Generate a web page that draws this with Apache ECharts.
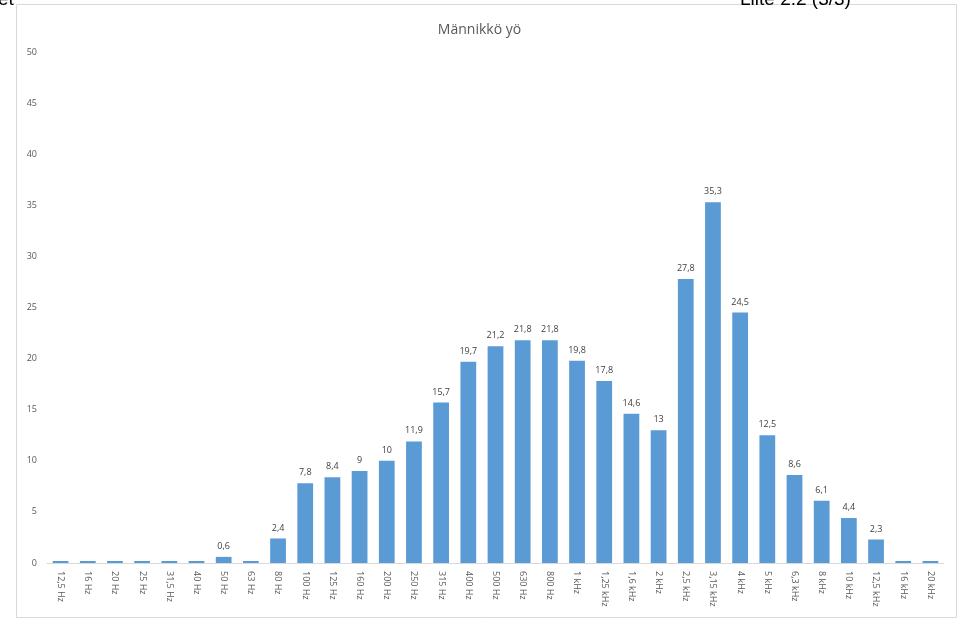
<!DOCTYPE html>
<html lang="fi">
<head>
    <meta charset="UTF-8" />
    <title>Männikkö yö</title>
    <script src="https://cdn.jsdelivr.net/npm/echarts@6/dist/echarts.min.js"></script>
    <style>
        html, body { margin: 0; padding: 0; background: #fff; }
        #chart { width: 959px; height: 620px; }
    </style>
</head>
<body>
    <div id="chart"></div>
    <script>
        // taajuuskaistat (terssit)
        var bands = ["12,5 Hz", "16 Hz", "20 Hz", "25 Hz", "31,5 Hz", "40 Hz", "50 Hz", "63 Hz", "80 Hz",
            "100 Hz", "125 Hz", "160 Hz", "200 Hz", "250 Hz", "315 Hz", "400 Hz", "500 Hz", "630 Hz", "800 Hz",
            "1 kHz", "1,25 kHz", "1,6 kHz", "2 kHz", "2,5 kHz", "3,15 kHz", "4 kHz", "5 kHz", "6,3 kHz",
            "8 kHz", "10 kHz", "12,5 kHz", "16 kHz", "20 kHz"];
        // tasot
        var levels = [0, 0, 0, 0, 0, 0, 0.6, 0, 2.4, 7.8, 8.4, 9, 10, 11.9, 15.7, 19.7, 21.2, 21.8, 21.8,
            19.8, 17.8, 14.6, 13, 27.8, 35.3, 24.5, 12.5, 8.6, 6.1, 4.4, 2.3, 0, 0];
        var yTicks = [0, 5, 10, 15, 20, 25, 30, 35, 40, 45, 50];

        var chart = echarts.init(document.getElementById("chart"));

        var option = {
            animation: false,
            title: {
                text: "Männikkö yö",
                left: "center",
                top: 18,
                textStyle: { fontFamily: "Open Sans", fontSize: 14, fontWeight: "normal", color: "#595959" }
            },
            graphic: [
                {
                    type: "rect",
                    shape: { x: 16.5, y: 4.5, width: 940, height: 613 },
                    style: { fill: "none", stroke: "#d9d9d9", lineWidth: 1 },
                    z: -1
                },
                {
                    type: "text", left: -2, top: -10,
                    style: { text: "et", font: "19px Liberation Sans", fill: "#000" }
                },
                {
                    type: "text", left: 740, top: -10,
                    style: { text: "Liite 2.2 (3/3)", font: "19px Liberation Sans", fill: "#000" }
                }
            ],
            grid: { left: 47, right: 15, top: 52, bottom: 57 },
            xAxis: {
                type: "category",
                data: bands,
                axisLine: { lineStyle: { color: "#d9d9d9" } },
                axisTick: { show: false },
                axisLabel: {
                    rotate: -90,
                    interval: 0,
                    margin: 8,
                    fontFamily: "Open Sans",
                    fontSize: 9,
                    color: "#595959"
                }
            },
            yAxis: {
                type: "value",
                min: yTicks[0],
                max: yTicks[yTicks.length - 1],
                interval: 5,
                splitLine: { show: false },
                axisLine: { show: false },
                axisTick: { show: false },
                axisLabel: { margin: 10, fontFamily: "Open Sans", fontSize: 9, color: "#595959" }
            },
            series: [{
                type: "bar",
                data: levels,
                barWidth: "58%",
                barMinHeight: 2,
                itemStyle: { color: "#5b9bd5" },
                label: {
                    show: true,
                    position: "top",
                    distance: 6,
                    fontFamily: "Open Sans",
                    fontSize: 9,
                    color: "#404040",
                    formatter: function (p) {
                        return p.value === 0 ? "" : String(p.value).replace(".", ",");
                    }
                }
            }]
        };

        chart.setOption(option);
    </script>
</body>
</html>
